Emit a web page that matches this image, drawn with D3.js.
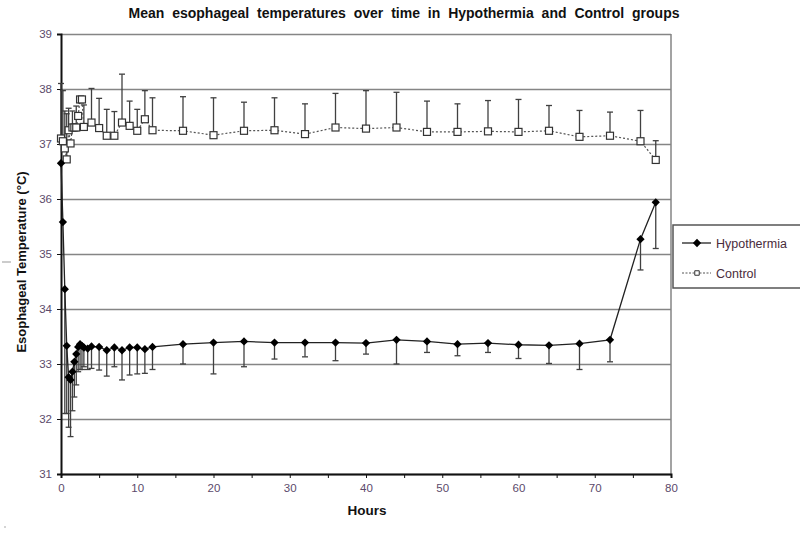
<!DOCTYPE html>
<html>

<head>
    <meta charset="utf-8">
    <title>Esophageal temperatures</title>
    <script src="https://d3js.org/d3.v7.min.js"></script>
</head>

<style>
    body {
        margin: 0px;
        background-color: white;
        overflow: hidden;
    }

    .tick text {
        font-family: "Liberation Sans", Arial, sans-serif;
        font-size: 11.5px;
        fill: #5b4a6b;
    }

    .grid line {
        stroke: #858585;
        stroke-width: 1.5px;
    }

    .errbar {
        stroke: #404040;
        stroke-width: 1.3px;
    }
</style>

<body>
    <svg id="svg"></svg>

    <script>
        // hours of each measurement
        var hypoHours = [0, 0.25, 0.5, 0.75, 1, 1.25, 1.5, 1.75, 2, 2.25, 2.5, 2.75, 3, 3.5, 4,
            5, 6, 7, 8, 9, 10, 11, 12,
            16, 20, 24, 28, 32, 36, 40, 44, 48, 52, 56, 60, 64, 68, 72, 76, 78]
        var hypoMean = [36.65, 35.58, 34.36, 33.33, 32.76, 32.71, 32.86, 33.04, 33.18, 33.31, 33.36, 33.33, 33.30, 33.28, 33.32,
            33.31, 33.25, 33.30, 33.25, 33.30, 33.30, 33.27, 33.31,
            33.36, 33.39, 33.41, 33.39, 33.39, 33.39, 33.38, 33.44, 33.41, 33.36, 33.38, 33.35, 33.34, 33.37, 33.44, 35.27, 35.94]
        // lower end of the error bar (mean - SD)
        var hypoLow = [null, null, 32.1, 32.1, 31.85, 31.68, 32.15, 32.4, 32.62, 32.86, 32.9, 32.9, 32.95, 32.9, 32.92,
            32.89, 32.78, 32.95, 32.71, 32.8, 32.82, 32.83, 32.9,
            33.0, 32.82, 32.95, 33.09, 33.13, 33.06, 33.18, 33.0, 33.21, 33.15, 33.21, 33.1, 33.01, 32.9, 33.04, 34.71, 35.1]

        var ctrlHours = [0, 0.25, 0.5, 0.75, 1, 1.25, 1.5, 1.75, 2, 2.25, 2.5, 2.75, 3, 4,
            5, 6, 7, 8, 9, 10, 11, 12,
            16, 20, 24, 28, 32, 36, 40, 44, 48, 52, 56, 60, 64, 68, 72, 76, 78]
        var ctrlMean = [37.10, 37.05, 36.92, 36.72, 37.25, 37.01, 37.30, 37.30, 37.30, 37.51, 37.81, 37.81, 37.31, 37.39,
            37.29, 37.15, 37.15, 37.39, 37.33, 37.24, 37.45, 37.25,
            37.24, 37.16, 37.24, 37.25, 37.18, 37.30, 37.28, 37.30, 37.22, 37.22, 37.23, 37.22, 37.24, 37.13, 37.15, 37.05, 36.71]
        // upper end of the error bar (mean + SD)
        var ctrlHigh = [38.1, 37.97, 37.6, 37.55, 37.65, null, 37.6, null, 37.69, null, 37.86, 37.86, 37.71, 38.01,
            37.83, 37.63, 37.59, 38.27, 37.78, 37.63, 37.97, 37.84,
            37.86, 37.84, 37.76, 37.84, 37.73, 37.92, 37.97, 37.94, 37.78, 37.73, 37.79, 37.81, 37.70, 37.61, 37.58, 37.61, 37.06]

        var xTicks = [0, 10, 20, 30, 40, 50, 60, 70, 80]
        var yTicks = [31, 32, 33, 34, 35, 36, 37, 38, 39]
        var seriesNames = ["Hypothermia", "Control"]

        var width = 800
        var height = 537

        var svg = d3.select("svg")
            .attr("width", width)
            .attr("height", height)

        var x = d3.scaleLinear().domain([0, 80]).range([61, 671])
        var y = d3.scaleLinear().domain([31, 39]).range([474, 34])

        var hypo = hypoHours.map(function (h, i) {
            return { h: h, v: hypoMean[i], e: hypoLow[i] }
        })
        var ctrl = ctrlHours.map(function (h, i) {
            return { h: h, v: ctrlMean[i], e: ctrlHigh[i] }
        })

        // horizontal gridlines
        svg.append("g")
            .attr("class", "grid")
            .attr("transform", "translate(" + x(0) + ",0)")
            .call(d3.axisLeft(y).tickValues(yTicks).tickSize(-(x(80) - x(0))).tickFormat(""))
            .call(g => g.select(".domain").remove())

        // right frame line
        svg.append("line")
            .attr("x1", x(80)).attr("x2", x(80))
            .attr("y1", y(39)).attr("y2", y(31))
            .attr("stroke", "#858585")
            .attr("stroke-width", 1.5)

        // axes
        var yAxis = svg.append("g")
            .attr("transform", "translate(" + x(0) + ",0)")
            .call(d3.axisLeft(y).tickValues(yTicks).tickSize(4).tickPadding(5).tickFormat(d3.format("d")))
        yAxis.select(".domain").attr("stroke", "#111").attr("stroke-width", 2)
        yAxis.selectAll(".tick line").attr("stroke", "#111")

        var xAxis = svg.append("g")
            .attr("transform", "translate(0," + y(31) + ")")
            .call(d3.axisBottom(x).tickValues(d3.range(0, 81, 5)).tickSize(4).tickPadding(6)
                .tickFormat(function (d) { return xTicks.indexOf(d) >= 0 ? d : "" }))
        xAxis.select(".domain").attr("stroke", "#111").attr("stroke-width", 2)
        xAxis.selectAll(".tick line").attr("stroke", "#111")

        // error bars
        function errorBars(data, cls) {
            var g = svg.append("g").attr("class", cls)
            var d = data.filter(function (p) { return p.e !== null })
            g.selectAll("line.v")
                .data(d)
                .join("line")
                .attr("class", "errbar v")
                .attr("x1", p => x(p.h)).attr("x2", p => x(p.h))
                .attr("y1", p => y(p.v)).attr("y2", p => y(p.e))
            g.selectAll("line.cap")
                .data(d)
                .join("line")
                .attr("class", "errbar cap")
                .attr("x1", p => x(p.h) - 3).attr("x2", p => x(p.h) + 3)
                .attr("y1", p => y(p.e)).attr("y2", p => y(p.e))
        }
        errorBars(hypo, "hypoErr")
        errorBars(ctrl, "ctrlErr")

        var line = d3.line()
            .x(p => x(p.h))
            .y(p => y(p.v))

        // control: dotted line + open squares
        svg.append("path")
            .datum(ctrl)
            .attr("d", line)
            .attr("fill", "none")
            .attr("stroke", "#555")
            .attr("stroke-width", 1.2)
            .attr("stroke-dasharray", "2,2")

        svg.append("g")
            .selectAll("rect")
            .data(ctrl)
            .join("rect")
            .attr("x", p => x(p.h) - 3.5)
            .attr("y", p => y(p.v) - 3.5)
            .attr("width", 7)
            .attr("height", 7)
            .attr("fill", "white")
            .attr("stroke", "#333")
            .attr("stroke-width", 1.2)

        // hypothermia: solid line + diamonds
        svg.append("path")
            .datum(hypo)
            .attr("d", line)
            .attr("fill", "none")
            .attr("stroke", "#222")
            .attr("stroke-width", 1.3)

        var diamond = d3.symbol().type(d3.symbolDiamond2).size(44)

        svg.append("g")
            .selectAll("path")
            .data(hypo)
            .join("path")
            .attr("d", diamond)
            .attr("transform", p => "translate(" + x(p.h) + "," + y(p.v) + ")")
            .attr("fill", "#000")

        // legend
        var legend = svg.append("g").attr("transform", "translate(673,225)")
        legend.append("rect")
            .attr("width", 140)
            .attr("height", 63)
            .attr("fill", "white")
            .attr("stroke", "#555")
            .attr("stroke-width", 1.5)

        var leg = legend.selectAll(".item")
            .data(seriesNames)
            .join("g")
            .attr("class", "item")
            .attr("transform", (d, i) => "translate(0," + (18 + i * 30) + ")")

        leg.append("line")
            .attr("x1", 9).attr("x2", 38)
            .attr("stroke", (d, i) => i === 0 ? "#222" : "#555")
            .attr("stroke-width", (d, i) => i === 0 ? 1.3 : 1)
            .attr("stroke-dasharray", (d, i) => i === 0 ? null : "2,1.5")

        leg.append("path")
            .attr("d", (d, i) => i === 0 ? diamond() : d3.symbol().type(d3.symbolSquare).size(20)())
            .attr("transform", "translate(24,0)")
            .attr("fill", (d, i) => i === 0 ? "#000" : "white")
            .attr("stroke", (d, i) => i === 0 ? "none" : "#333")

        leg.append("text")
            .attr("x", 43)
            .attr("y", 4.5)
            .attr("font-family", "Liberation Sans, Arial, sans-serif")
            .attr("font-size", 12.5)
            .attr("fill", "#4a2c3c")
            .text(d => d)

        // titles
        svg.append("text")
            .attr("x", 404)
            .attr("y", 18)
            .attr("text-anchor", "middle")
            .attr("font-family", "Liberation Sans, Arial, sans-serif")
            .attr("font-weight", "bold")
            .attr("font-size", 14)
            .attr("word-spacing", 4)
            .attr("fill", "#111")
            .text("Mean esophageal temperatures over time in Hypothermia and Control groups")

        svg.append("text")
            .attr("transform", "translate(26,262) rotate(-90)")
            .attr("text-anchor", "middle")
            .attr("font-family", "Liberation Sans, Arial, sans-serif")
            .attr("font-weight", "bold")
            .attr("font-size", 13)
            .attr("fill", "#111")
            .text("Esophageal Temperature (°C)")

        svg.append("text")
            .attr("x", 367)
            .attr("y", 515)
            .attr("text-anchor", "middle")
            .attr("font-family", "Liberation Sans, Arial, sans-serif")
            .attr("font-weight", "bold")
            .attr("font-size", 13.5)
            .attr("fill", "#111")
            .text("Hours")

        // stray marks present in the source image
        svg.append("line")
            .attr("x1", 2).attr("x2", 11)
            .attr("y1", 262).attr("y2", 262)
            .attr("stroke", "#999")
        svg.append("circle")
            .attr("cx", 5).attr("cy", 527).attr("r", 0.7)
            .attr("fill", "#888")
    </script>
</body>

</html>
